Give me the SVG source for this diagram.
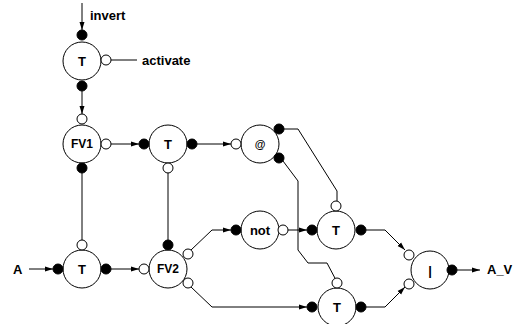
<svg xmlns="http://www.w3.org/2000/svg" width="514" height="324" viewBox="0 0 514 324">
<defs>
<marker id="ah" markerWidth="8" markerHeight="6" refX="8" refY="3" orient="auto" markerUnits="userSpaceOnUse">
<path d="M0,0.5 L8,3 L0,5.5 z" fill="#000"/>
</marker>
<style>
.n{fill:#fff;stroke:#000;stroke-width:1}
.pf{fill:#000;stroke:#000;stroke-width:1}
.po{fill:#fff;stroke:#000;stroke-width:1}
.c{fill:none;stroke:#000;stroke-width:1}
.a{marker-end:url(#ah)}
.t{font-family:"Liberation Sans",Arial,sans-serif;font-weight:bold;font-size:13px;text-anchor:middle;dominant-baseline:central;fill:#000}
.l{font-family:"Liberation Sans",Arial,sans-serif;font-weight:bold;font-size:13px;fill:#000}
</style>
</defs>
<rect width="514" height="324" fill="#fff"/>
<g id="connectors">
<path class="c a" d="M82,3 V30"/>
<path class="c" d="M111,60 H137"/>
<path class="c a" d="M82,91 V114"/>
<path class="c a" d="M111,144 H139"/>
<path class="c a" d="M197,144 H231"/>
<path class="c" d="M82,168 V240"/>
<path class="c" d="M168,168 V240"/>
<path class="c a" d="M29,269 H53"/>
<path class="c a" d="M111,269 H139"/>
<path class="c a" d="M191,250 L212,230 H231"/>
<path class="c a" d="M288,230 H307"/>
<path class="c" d="M283,129 H298 L337,191 V201"/>
<path class="c" d="M283,161 L298,181 V250 L308,263 H327 L337,282"/>
<path class="c a" d="M191,287 L212,307 H307"/>
<path class="c a" d="M366,230 H385 L405,250"/>
<path class="c a" d="M366,307 H385 L405,287"/>
<path class="c a" d="M457,270 H480"/>
</g>
<g id="n_T0">
<circle class="n" cx="82" cy="61" r="19"/>
<text class="t" x="82" y="61">T</text>
<circle class="pf" cx="82" cy="35" r="5"/>
<circle class="pf" cx="82" cy="86" r="5"/>
<circle class="po" cx="106" cy="60" r="5"/>
</g>
<g id="n_FV1">
<circle class="n" cx="82" cy="144" r="19"/>
<text class="t" x="82" y="144" style="font-size:12px">FV1</text>
<circle class="po" cx="82" cy="119" r="5"/>
<circle class="po" cx="106" cy="144" r="5"/>
<circle class="pf" cx="82" cy="168" r="5"/>
</g>
<g id="n_T1">
<circle class="n" cx="168" cy="144" r="19"/>
<text class="t" x="168" y="144">T</text>
<circle class="pf" cx="144" cy="144" r="5"/>
<circle class="pf" cx="192" cy="144" r="5"/>
<circle class="po" cx="168" cy="168" r="5"/>
</g>
<g id="n_at">
<circle class="n" cx="260" cy="144" r="19"/>
<text class="t" x="260" y="144" style="font-size:11px">@</text>
<circle class="po" cx="236" cy="144" r="5"/>
<circle class="pf" cx="279" cy="129" r="5"/>
<circle class="pf" cx="279" cy="158" r="5"/>
</g>
<g id="n_TA">
<circle class="n" cx="82" cy="269" r="19"/>
<text class="t" x="82" y="269">T</text>
<circle class="pf" cx="58" cy="269" r="5"/>
<circle class="pf" cx="106" cy="269" r="5"/>
<circle class="po" cx="82" cy="245" r="5"/>
</g>
<g id="n_FV2">
<circle class="n" cx="168" cy="269" r="19"/>
<text class="t" x="168" y="269" style="font-size:12px">FV2</text>
<circle class="po" cx="144" cy="269" r="5"/>
<circle class="pf" cx="168" cy="245" r="5"/>
<circle class="po" cx="188" cy="254" r="5"/>
<circle class="po" cx="188" cy="283" r="5"/>
</g>
<g id="n_not">
<circle class="n" cx="260" cy="230" r="19"/>
<text class="t" x="260" y="230">not</text>
<circle class="pf" cx="236" cy="230" r="5"/>
<circle class="po" cx="283" cy="230" r="5"/>
</g>
<g id="n_T3">
<circle class="n" cx="336" cy="230" r="19"/>
<text class="t" x="336" y="230">T</text>
<circle class="pf" cx="312" cy="230" r="5"/>
<circle class="pf" cx="361" cy="230" r="5"/>
<circle class="po" cx="336" cy="206" r="5"/>
</g>
<g id="n_T4">
<circle class="n" cx="337" cy="307" r="19"/>
<text class="t" x="337" y="307">T</text>
<circle class="pf" cx="312" cy="307" r="5"/>
<circle class="pf" cx="361" cy="307" r="5"/>
<circle class="po" cx="337" cy="283" r="5"/>
</g>
<g id="n_or">
<circle class="n" cx="430" cy="270" r="19"/>
<text class="t" x="430" y="270">|</text>
<circle class="po" cx="409" cy="255" r="5"/>
<circle class="po" cx="409" cy="284" r="5"/>
<circle class="pf" cx="452" cy="270" r="5"/>
</g>
<g id="labels">
<text class="l" x="90" y="20">invert</text>
<text class="l" x="142" y="65">activate</text>
<text class="l" x="13" y="274">A</text>
<text class="l" x="487" y="274">A_V</text>
</g>
</svg>
